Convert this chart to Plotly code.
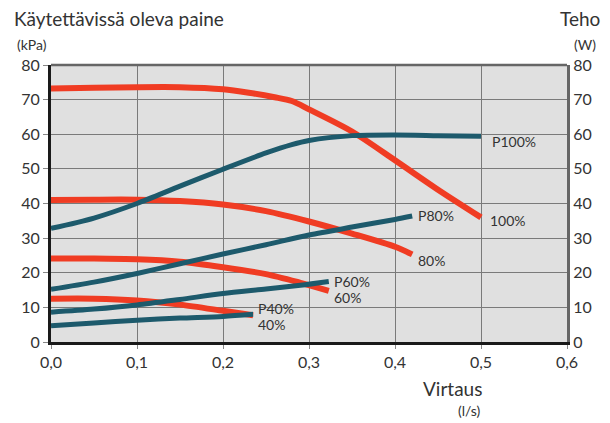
import plotly.graph_objects as go

# Flow (l/s) vs available pressure (kPa) and power (W) at pump speeds
flow_p100 = [0.0, 0.05, 0.1, 0.15, 0.2, 0.23, 0.26, 0.28, 0.3, 0.35, 0.4, 0.45, 0.5]
kpa_p100 = [73.2, 73.4, 73.6, 73.6, 73.0, 72.0, 70.7, 69.6, 67.2, 60.8, 52.5, 44.0, 36.0]

flow_w100 = [0.0, 0.05, 0.1, 0.15, 0.2, 0.25, 0.28, 0.3, 0.35, 0.4, 0.45, 0.5]
watt_p100 = [32.8, 35.8, 40.0, 45.0, 49.9, 54.6, 57.0, 58.2, 59.6, 59.8, 59.6, 59.4]

flow_p80 = [0.0, 0.05, 0.1, 0.15, 0.2, 0.25, 0.3, 0.35, 0.4, 0.42]
kpa_p80 = [41.0, 41.1, 41.1, 40.7, 39.7, 37.8, 34.8, 31.3, 27.5, 25.3]
watt_p80 = [15.2, 17.3, 19.8, 22.6, 25.4, 28.1, 30.9, 33.2, 35.4, 36.4]

flow_p60 = [0.0, 0.05, 0.1, 0.15, 0.2, 0.25, 0.29, 0.323]
kpa_p60 = [24.1, 24.1, 23.9, 23.2, 21.6, 19.6, 17.1, 14.8]
watt_p60 = [8.6, 9.5, 10.7, 12.3, 14.0, 15.3, 16.4, 17.5]

flow_p40 = [0.0, 0.05, 0.1, 0.15, 0.2, 0.235]
kpa_p40 = [12.5, 12.5, 12.0, 10.8, 9.0, 7.7]
watt_p40 = [4.7, 5.5, 6.3, 6.9, 7.4, 8.0]

speeds = ["100%", "80%", "60%", "40%"]
pressure_flows = [flow_p100, flow_p80, flow_p60, flow_p40]
power_flows = [flow_w100, flow_p80, flow_p60, flow_p40]
pressures = [kpa_p100, kpa_p80, kpa_p60, kpa_p40]
powers = [watt_p100, watt_p80, watt_p60, watt_p40]

x_ticks = [0.0, 0.1, 0.2, 0.3, 0.4, 0.5, 0.6]
y_ticks = [0, 10, 20, 30, 40, 50, 60, 70, 80]

RED = "#f03c23"
BLUE = "#1d5a6c"
TEXT = "#333333"
FONT = "Lato"

fig = go.Figure()

for fl, pw in zip(power_flows, powers):
    fig.add_trace(go.Scatter(x=fl, y=pw, mode="lines", yaxis="y2",
                             line=dict(color=BLUE, width=5, shape="spline", smoothing=0.8),
                             hoverinfo="skip", showlegend=False))
for fl, pr in zip(pressure_flows, pressures):
    fig.add_trace(go.Scatter(x=fl, y=pr, mode="lines",
                             line=dict(color=RED, width=6, shape="spline", smoothing=0.8),
                             hoverinfo="skip", showlegend=False))

# Curve end labels: power (P..) and pressure (..%), with pixel offsets
power_shift = {"100%": (9, -5), "80%": (4, 0), "60%": (3, 0), "40%": (3, 6)}
press_shift = {"100%": (7, -3), "80%": (4, -6), "60%": (3, -7), "40%": (3, -9)}

annotations = []
for name, pf, wf, pr, pw in zip(speeds, pressure_flows, power_flows, pressures, powers):
    dx, dy = power_shift[name]
    annotations.append(dict(x=wf[-1], y=pw[-1], yref="y2", text="P" + name,
                            xanchor="left", yanchor="middle", xshift=dx, yshift=dy,
                            showarrow=False, font=dict(size=14, color=TEXT, family=FONT)))
    dx, dy = press_shift[name]
    annotations.append(dict(x=pf[-1], y=pr[-1], text=name,
                            xanchor="left", yanchor="middle", xshift=dx, yshift=dy,
                            showarrow=False, font=dict(size=14, color=TEXT, family=FONT)))

# Axis titles
annotations += [
    dict(xref="paper", yref="paper", x=0, y=1, xanchor="left", yanchor="middle",
         xshift=-39, yshift=47, text="Käytettävissä oleva paine", showarrow=False,
         font=dict(size=19, color=TEXT, family=FONT)),
    dict(xref="paper", yref="paper", x=0, y=1, xanchor="left", yanchor="middle",
         xshift=-36, yshift=21, text="(kPa)", showarrow=False,
         font=dict(size=14, color=TEXT, family=FONT)),
    dict(xref="paper", yref="paper", x=1, y=1, xanchor="right", yanchor="middle",
         xshift=35, yshift=47, text="Teho", showarrow=False,
         font=dict(size=19, color=TEXT, family=FONT)),
    dict(xref="paper", yref="paper", x=1, y=1, xanchor="right", yanchor="middle",
         xshift=31, yshift=21, text="(W)", showarrow=False,
         font=dict(size=14, color=TEXT, family=FONT)),
    dict(xref="paper", yref="paper", x=1, y=0, xanchor="right", yanchor="middle",
         xshift=-83, yshift=-46, text="Virtaus", showarrow=False,
         font=dict(size=19, color=TEXT, family=FONT)),
    dict(xref="paper", yref="paper", x=1, y=0, xanchor="right", yanchor="middle",
         xshift=-84, yshift=-68, text="(l/s)", showarrow=False,
         font=dict(size=14, color=TEXT, family=FONT)),
]

fig.update_layout(
    width=610, height=423,
    margin=dict(l=51, r=43, t=65, b=81),
    paper_bgcolor="white",
    plot_bgcolor="#e0e0e0",
    separators=", ",
    font=dict(family=FONT, color=TEXT, size=16),
    annotations=annotations,
    xaxis=dict(range=[0, 0.6], tickvals=x_ticks, tickformat=".1f",
               showgrid=True, gridcolor="#7a7a7a", gridwidth=1.3,
               showline=True, linecolor="#1a1a1a", linewidth=3,
               ticks="outside", ticklen=4, tickcolor="#888888",
               tickfont=dict(size=16, color=TEXT), zeroline=False,
               mirror=False, fixedrange=True),
    yaxis=dict(range=[0, 80], tickvals=y_ticks,
               showgrid=True, gridcolor="#7a7a7a", gridwidth=1.3,
               showline=True, linecolor="#1a1a1a", linewidth=3,
               ticks="outside", ticklen=5, tickcolor="#888888",
               tickfont=dict(size=16, color=TEXT), zeroline=False),
    yaxis2=dict(range=[0, 80], tickvals=y_ticks, overlaying="y", side="right",
                showgrid=False, showline=True, linecolor="#666666", linewidth=3,
                ticks="", tickfont=dict(size=16, color=TEXT), zeroline=False),
    shapes=[dict(type="line", xref="paper", yref="paper", x0=0, x1=1, y0=1, y1=1,
                 line=dict(color="#666666", width=2.5), layer="above")],
)

fig.write_html("out.html")
